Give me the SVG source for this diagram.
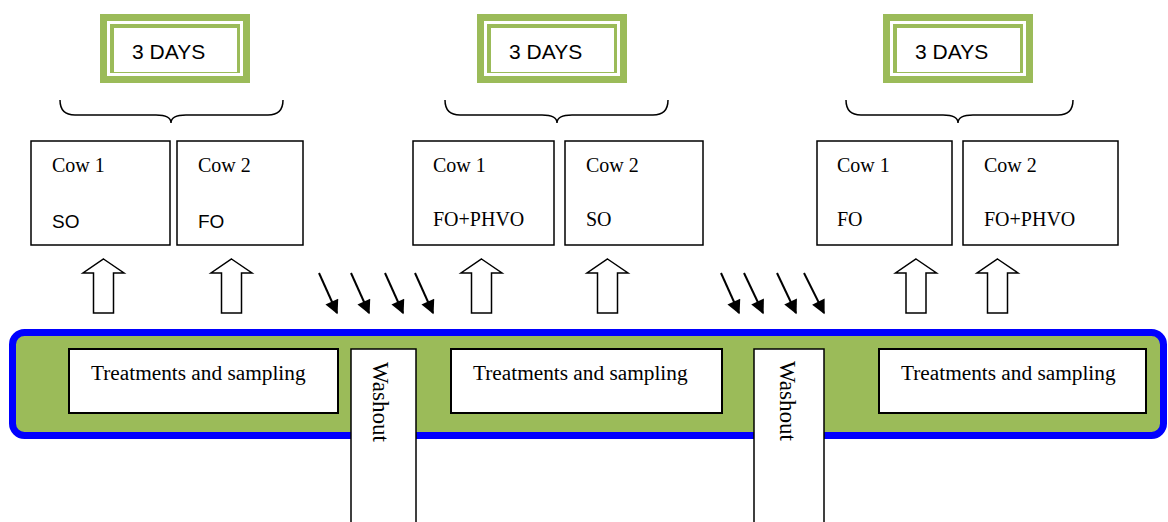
<svg xmlns="http://www.w3.org/2000/svg" width="1168" height="522" viewBox="0 0 1168 522">
<style>
.g{fill:#9BBB59}
.w{fill:#fff}
.days{font-family:"Liberation Sans",Arial,sans-serif;font-size:21px;fill:#000}
.brace{fill:none;stroke:#000;stroke-width:1.5}
.box{fill:#fff;stroke:#000;stroke-width:1.5}
.ser{font-family:"Liberation Serif","Times New Roman",serif;font-size:20px;fill:#000}
.san{font-family:"Liberation Sans",Arial,sans-serif;font-size:19px;fill:#000}
.up{fill:#fff;stroke:#000;stroke-width:1.5;stroke-linejoin:miter}
.dn{stroke:#000;stroke-width:2;fill:none;marker-end:url(#ah)}
.tbox{fill:#fff;stroke:#000;stroke-width:2}
.tr{font-family:"Liberation Serif","Times New Roman",serif;font-size:21.3px;fill:#000}
.wash{font-family:"Liberation Serif","Times New Roman",serif;font-size:23px;fill:#000}
</style>
<defs>
<marker id="ah" viewBox="0 0 10 10" refX="9" refY="5" markerWidth="8" markerHeight="7" markerUnits="strokeWidth" orient="auto">
<path d="M0,0 L10,5 L0,10 z" fill="#000"/>
</marker>
<path id="uparrow" d="M0,0 L20.5,14 L10,14 L10,54 L-10,54 L-10,14 L-20.5,14 Z"/>
</defs>

<g id="days1">
<rect class="g" x="100" y="14" width="150" height="69"/>
<rect class="w" x="107" y="21" width="136" height="55"/>
<rect class="g" x="110" y="24" width="130" height="49"/>
<rect class="w" x="114" y="28" width="123" height="44"/>
<text class="days" x="132" y="59">3 DAYS</text>
</g>
<g id="days2">
<rect class="g" x="477" y="14" width="150" height="69"/>
<rect class="w" x="484" y="21" width="136" height="55"/>
<rect class="g" x="487" y="24" width="130" height="49"/>
<rect class="w" x="491" y="28" width="123" height="44"/>
<text class="days" x="509" y="59">3 DAYS</text>
</g>
<g id="days3">
<rect class="g" x="883" y="14" width="150" height="69"/>
<rect class="w" x="890" y="21" width="136" height="55"/>
<rect class="g" x="893" y="24" width="130" height="49"/>
<rect class="w" x="897" y="28" width="123" height="44"/>
<text class="days" x="915" y="59">3 DAYS</text>
</g>

<g id="braces">
<path class="brace" d="M60,100 Q60,115 75,115 L156,115 Q171,115 171,123 Q171,115 186,115 L268,115 Q283,115 283,100"/>
<path class="brace" d="M445,100 Q445,115 460,115 L542,115 Q557,115 557,123 Q557,115 572,115 L653,115 Q668,115 668,100"/>
<path class="brace" d="M846,100 Q846,115 861,115 L943,115 Q958,115 958,123 Q958,115 973,115 L1058,115 Q1073,115 1073,100"/>
</g>

<g id="cow-p1-1">
<rect class="box" x="31" y="141" width="139" height="104"/>
<text class="ser" x="52" y="172">Cow 1</text>
<text class="san" x="52" y="228">SO</text>
</g>
<g id="cow-p1-2">
<rect class="box" x="177" y="141" width="126" height="104"/>
<text class="ser" x="198" y="172">Cow 2</text>
<text class="san" x="198" y="228">FO</text>
</g>
<g id="cow-p2-1">
<rect class="box" x="413" y="141" width="141" height="104"/>
<text class="ser" x="433" y="172">Cow 1</text>
<text class="ser" x="433" y="226">FO+PHVO</text>
</g>
<g id="cow-p2-2">
<rect class="box" x="565" y="141" width="138" height="104"/>
<text class="ser" x="586" y="172">Cow 2</text>
<text class="ser" x="586" y="226">SO</text>
</g>
<g id="cow-p3-1">
<rect class="box" x="817" y="141" width="135" height="104"/>
<text class="ser" x="837" y="172">Cow 1</text>
<text class="ser" x="837" y="226">FO</text>
</g>
<g id="cow-p3-2">
<rect class="box" x="963" y="141" width="155" height="104"/>
<text class="ser" x="984" y="172">Cow 2</text>
<text class="ser" x="984" y="226">FO+PHVO</text>
</g>

<g id="band">
<rect x="12.5" y="332.5" width="1151" height="103" rx="12" ry="12" fill="#9BBB59" stroke="#0000FF" stroke-width="7"/>
</g>
<g id="treat1">
<rect class="tbox" x="69" y="349" width="269" height="64"/>
<text class="tr" x="91" y="380">Treatments and sampling</text>
</g>
<g id="treat2">
<rect class="tbox" x="451" y="349" width="271" height="64"/>
<text class="tr" x="473" y="380">Treatments and sampling</text>
</g>
<g id="treat3">
<rect class="tbox" x="879" y="349" width="267" height="64"/>
<text class="tr" x="901" y="380">Treatments and sampling</text>
</g>
<g id="washout1">
<rect class="box" x="351" y="349" width="65" height="180"/>
<text class="wash" transform="translate(373,362) rotate(90)">Washout</text>
</g>
<g id="washout2">
<rect class="box" x="754" y="349" width="70" height="180"/>
<text class="wash" transform="translate(780,361) rotate(90)">Washout</text>
</g>

<g id="connectors">
<use href="#uparrow" class="up" x="103.5" y="259"/>
<use href="#uparrow" class="up" x="231.5" y="259"/>
<use href="#uparrow" class="up" x="481.5" y="259"/>
<use href="#uparrow" class="up" x="607.5" y="259"/>
<use href="#uparrow" class="up" x="916" y="259"/>
<use href="#uparrow" class="up" x="997.5" y="259"/>
<line class="dn" x1="319" y1="273" x2="337" y2="313"/>
<line class="dn" x1="351" y1="273" x2="369" y2="313"/>
<line class="dn" x1="385" y1="273" x2="403" y2="313"/>
<line class="dn" x1="415" y1="273" x2="433" y2="313"/>
<line class="dn" x1="721" y1="273" x2="739" y2="313"/>
<line class="dn" x1="744" y1="273" x2="763" y2="313"/>
<line class="dn" x1="777" y1="273" x2="796" y2="313"/>
<line class="dn" x1="804" y1="273" x2="824" y2="313"/>
</g>
</svg>
